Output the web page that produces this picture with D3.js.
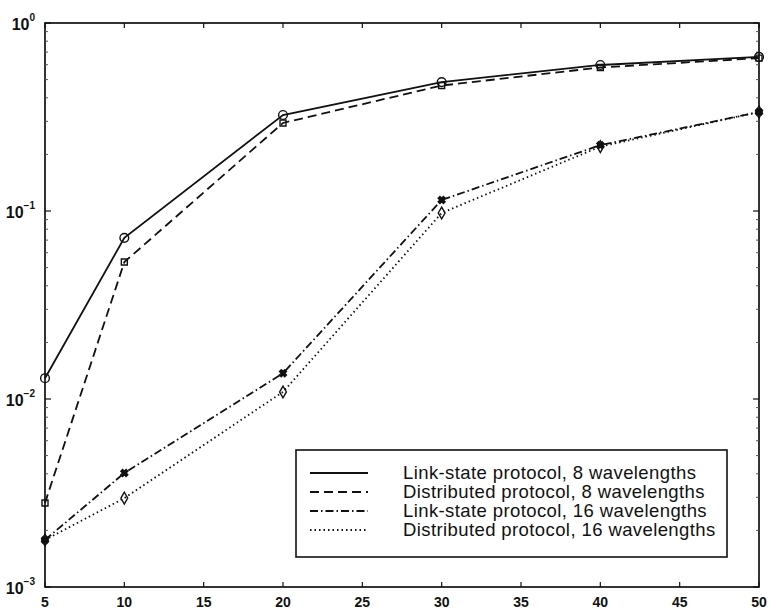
<!DOCTYPE html>
<html>
<head>
<meta charset="utf-8">
<script src="https://cdn.jsdelivr.net/npm/d3@7"></script>
<style>
body{margin:0;background:#fff;}
text{font-family:"Liberation Sans",Arial,sans-serif;fill:#111;}
</style>
</head>
<body>
<svg id="c" width="770" height="609"></svg>
<script>
const xValues = [5, 10, 20, 30, 40, 50];
const linkState8 = [0.0129, 0.072, 0.324, 0.485, 0.598, 0.66];
const distributed8 = [0.0028, 0.0535, 0.294, 0.465, 0.58, 0.65];
const linkState16 = [0.00178, 0.00404, 0.0137, 0.1145, 0.224, 0.336];
const distributed16 = [0.00178, 0.00297, 0.0109, 0.0976, 0.22, 0.336];
const xTicks = [5, 10, 15, 20, 25, 30, 35, 40, 45, 50];
const yExponents = [0, -1, -2, -3];
const legendLabels = [
  "Link-state protocol, 8 wavelengths",
  "Distributed protocol, 8 wavelengths",
  "Link-state protocol, 16 wavelengths",
  "Distributed protocol, 16 wavelengths"
];

const series = [
  {values: linkState8, dash: null, marker: "circle"},
  {values: distributed8, dash: "9,5", marker: "square"},
  {values: linkState16, dash: "8,3,1.5,3", marker: "star"},
  {values: distributed16, dash: "1.5,3", marker: "diamond"}
];

const L = 45, R = 759, T = 23, B = 587;
const svg = d3.select("#c");
const x = d3.scaleLinear().domain([5, 50]).range([L, R]);
const y = d3.scaleLog().domain([1e-3, 1]).range([B, T]);

// frame
svg.append("rect").attr("x", L).attr("y", T).attr("width", R - L).attr("height", B - T)
  .attr("fill", "none").attr("stroke", "#111").attr("stroke-width", 1.7);

// x ticks inside, top and bottom
const tl = 5;
xTicks.forEach(v => {
  svg.append("line").attr("x1", x(v)).attr("x2", x(v)).attr("y1", B).attr("y2", B - tl).attr("stroke", "#111").attr("stroke-width", 1.2);
  svg.append("line").attr("x1", x(v)).attr("x2", x(v)).attr("y1", T).attr("y2", T + tl).attr("stroke", "#111").attr("stroke-width", 1.2);
  svg.append("text").attr("x", x(v)).attr("y", 607).attr("text-anchor", "middle")
    .attr("font-size", 14).attr("font-weight", "bold").text(v);
});

// y ticks major + minor
const minor = [];
for (let e = -3; e < 0; e++) for (let m = 2; m <= 9; m++) minor.push(m * Math.pow(10, e));
minor.forEach(v => {
  svg.append("line").attr("x1", L).attr("x2", L + 3).attr("y1", y(v)).attr("y2", y(v)).attr("stroke", "#555").attr("stroke-width", 1);
  svg.append("line").attr("x1", R).attr("x2", R - 3).attr("y1", y(v)).attr("y2", y(v)).attr("stroke", "#555").attr("stroke-width", 1);
});
yExponents.forEach(e => {
  const v = Math.pow(10, e);
  svg.append("line").attr("x1", L).attr("x2", L + 6).attr("y1", y(v)).attr("y2", y(v)).attr("stroke", "#111").attr("stroke-width", 1.2);
  svg.append("line").attr("x1", R).attr("x2", R - 6).attr("y1", y(v)).attr("y2", y(v)).attr("stroke", "#111").attr("stroke-width", 1.2);
  const t = svg.append("text").attr("x", 35).attr("y", y(v) + 7).attr("text-anchor", "end").attr("font-size", 16).attr("font-weight", "bold");
  t.append("tspan").text("10");
  t.append("tspan").attr("dy", -9).attr("font-size", 10).text(e === 0 ? "0" : "\u2212" + (-e));
});

// lines
const line = d3.line().x((d, i) => x(xValues[i])).y(d => y(d));
series.forEach(s => {
  svg.append("path").datum(s.values).attr("d", line).attr("fill", "none")
    .attr("stroke", "#111").attr("stroke-width", 1.8)
    .attr("stroke-dasharray", s.dash);
});

// markers
const symMap = {circle: d3.symbolCircle, square: d3.symbolSquare, star: d3.symbolCross, diamond: d3.symbolDiamond};
series.forEach(s => {
  s.values.forEach((v, i) => {
    const size = s.marker === "circle" ? 60 : (s.marker === "square" ? 36 : (s.marker === "diamond" ? 40 : 30));
    svg.append("path").attr("d", d3.symbol().type(symMap[s.marker]).size(size)())
      .attr("transform", `translate(${x(xValues[i])},${y(v)})` + (s.marker === "star" ? " rotate(45)" : ""))
      .attr("fill", s.marker === "star" ? "#111" : "none").attr("stroke", "#111").attr("stroke-width", 1.4);
  });
});

// legend
const lg = svg.append("g");
lg.append("rect").attr("x", 296).attr("y", 450).attr("width", 431).attr("height", 107)
  .attr("fill", "#fff").attr("stroke", "#111").attr("stroke-width", 1.6);
const rowsY = [473, 492, 511, 530];
legendLabels.forEach((lab, i) => {
  lg.append("line").attr("x1", 310).attr("x2", 368).attr("y1", rowsY[i]).attr("y2", rowsY[i])
    .attr("stroke", "#111").attr("stroke-width", 1.8).attr("stroke-dasharray", series[i].dash);
  lg.append("text").attr("x", 403).attr("y", rowsY[i] + 6).attr("font-size", 18.5)
    .attr("letter-spacing", 0.4).text(lab);
});
</script>
</body>
</html>
